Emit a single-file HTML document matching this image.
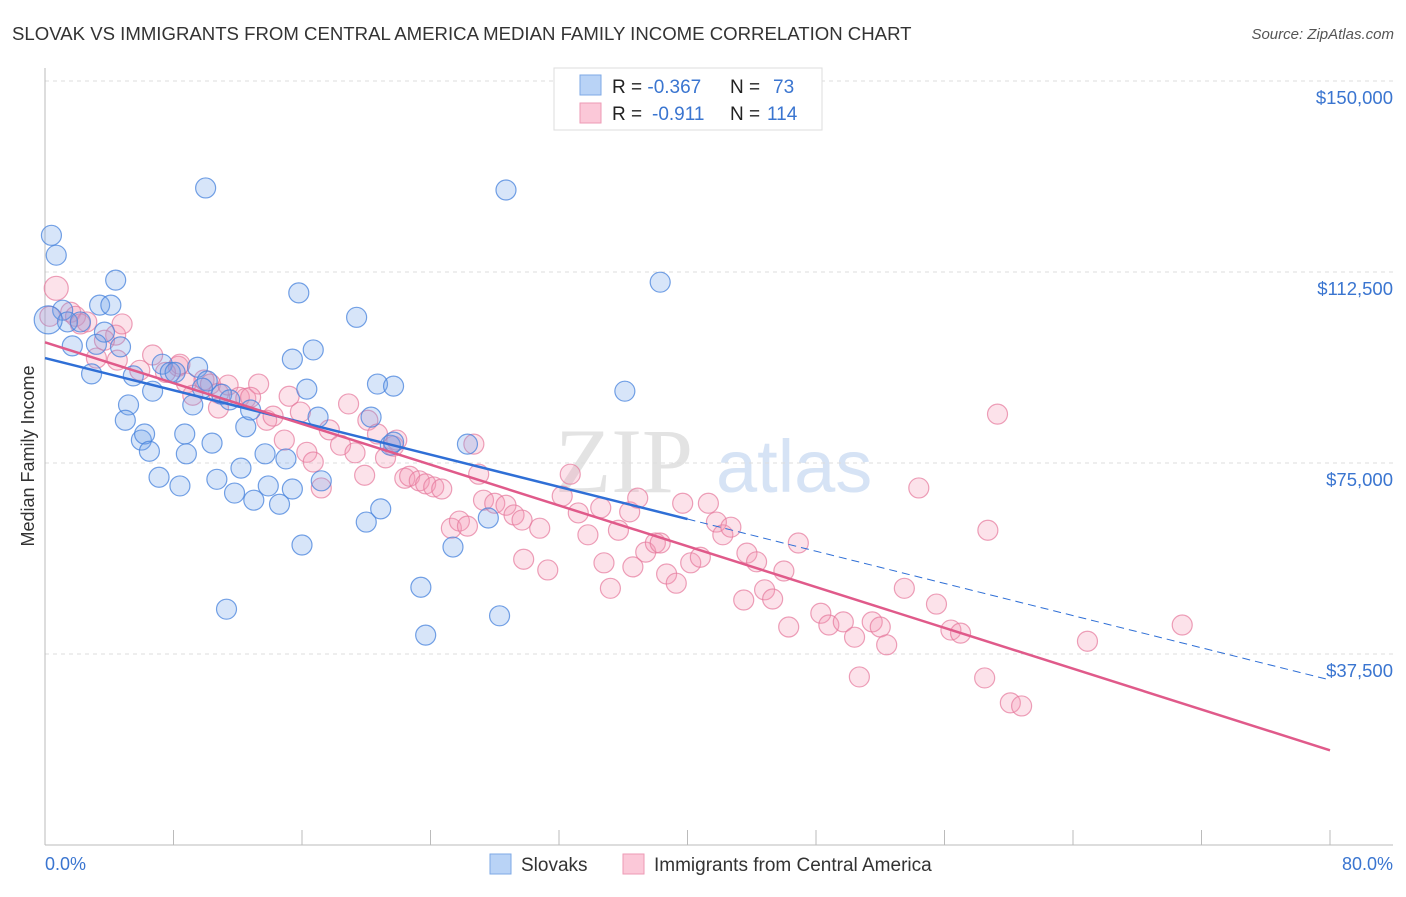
<!DOCTYPE html>
<html><head><meta charset="utf-8"><style>
body{margin:0;background:#fff;font-family:"Liberation Sans",sans-serif;}
svg text{font-family:"Liberation Sans",sans-serif;}
</style></head><body>
<svg id="chart" width="1406" height="892">
<text x="12" y="40" font-size="18.6" fill="#333">SLOVAK VS IMMIGRANTS FROM CENTRAL AMERICA MEDIAN FAMILY INCOME CORRELATION CHART</text>
<text x="1394" y="39" font-size="15" fill="#555" font-style="italic" text-anchor="end">Source: ZipAtlas.com</text>
<text x="34" y="456" font-size="18" fill="#333" text-anchor="middle" transform="rotate(-90 34 456)">Median Family Income</text>
<g>
<text x="555" y="492" font-size="92" fill="#e3e3e3" style="font-family:'Liberation Serif',serif">ZIP</text>
<text x="716" y="492" font-size="74" fill="#d6e3f5">atlas</text>
</g>
<g id="grid"></g>
<g id="axes"></g>
<g id="pts"></g>
<g id="lines"></g>
<g>
<rect x="554" y="68" width="268" height="62" fill="#fff" stroke="#ddd"/>
<rect x="580" y="75" width="21" height="20" fill="#b9d3f6" stroke="#7ea8e6"/>
<rect x="580" y="103" width="21" height="20" fill="#fbc8d8" stroke="#ee9ab5"/>
<text x="612" y="93" font-size="19" fill="#222">R = <tspan fill="#3a75d0">-0.367</tspan><tspan x="730">N = </tspan><tspan x="773" fill="#3a75d0">73</tspan></text>
<text x="612" y="120" font-size="19" fill="#222">R = <tspan x="652" fill="#3a75d0">-0.911</tspan><tspan x="730">N = </tspan><tspan x="767" fill="#3a75d0">114</tspan></text>
</g>
<g>
<rect x="490" y="854" width="21" height="20" fill="#b9d3f6" stroke="#7ea8e6"/>
<text x="521" y="871" font-size="19" fill="#333">Slovaks</text>
<rect x="623" y="854" width="21" height="20" fill="#fbc8d8" stroke="#ee9ab5"/>
<text x="654" y="871" font-size="19" fill="#333">Immigrants from Central America</text>
</g>
</svg>
<script>
const yTicks=[150000,112500,75000,37500];
const yTickLabels=["$150,000","$112,500","$75,000","$37,500"];
const xLabels=["0.0%","80.0%"];
const blueX=[0.4,0.7,4.4,10.0,28.7,38.3,15.8,19.4,3.4,4.1,1.1,1.4,2.2,0.2,3.7,1.7,3.2,4.7,2.9,5.5,7.3,7.8,9.5,6.7,5.2,9.2,6.0,6.2,6.5,5.0,8.7,8.8,10.4,7.1,8.4,10.7,11.8,12.2,13.0,12.5,13.7,13.9,14.6,15.0,15.4,15.4,16.7,16.3,17.0,17.2,16.0,11.3,20.3,20.7,21.7,21.5,21.7,20.9,20.0,26.3,27.6,25.4,23.4,23.7,28.3,36.1,12.8,11.0,11.5,10.1,8.1,9.8];
const blueY=[119.7,115.8,110.9,129.0,128.6,110.5,108.4,103.6,106.0,106.0,105.0,102.7,102.7,103.1,100.7,98.0,98.3,97.8,92.5,92.1,94.4,92.8,93.8,89.1,86.4,86.4,79.5,80.7,77.3,83.4,80.7,76.8,78.9,72.2,70.5,71.8,69.1,74.0,67.7,82.1,76.8,70.5,66.9,75.8,69.9,95.4,97.2,89.5,84.0,71.5,58.9,46.3,84.0,90.5,90.1,78.5,79.1,66.0,63.4,78.7,64.2,58.5,50.6,41.2,45.0,89.1,85.4,88.5,87.4,91.1,92.8,89.7];
const pinkX=[0.7,0.3,1.6,1.9,2.2,2.6,3.2,4.4,4.8,3.7,4.5,6.7,5.9,8.3,8.4,7.5,8.8,9.2,9.9,10.3,10.8,11.4,12.1,12.5,10.8,13.3,12.8,13.8,14.2,15.2,15.9,14.9,16.3,16.7,17.2,17.7,18.4,18.9,19.3,19.9,20.1,20.7,21.2,21.7,21.9,22.4,22.7,23.3,23.7,24.2,24.7,25.3,25.8,26.3,26.7,27.0,27.3,28.0,28.7,29.2,29.7,30.8,29.8,31.3,32.7,32.2,33.2,33.8,34.6,34.8,35.2,35.7,36.4,36.9,37.4,36.6,38.0,38.3,38.7,39.3,39.7,40.2,40.8,41.3,41.8,42.2,42.7,43.5,43.7,44.3,44.8,45.3,46.0,46.3,46.9,48.3,48.8,49.7,50.4,50.7,51.5,52.0,52.4,53.5,54.4,55.5,56.4,57.0,58.7,58.5,59.3,60.1,60.8,64.9,70.8];
const pinkY=[109.3,103.8,104.6,103.8,102.3,102.7,95.6,100.1,102.3,99.1,95.2,96.2,93.2,94.0,94.4,92.8,90.7,88.3,91.3,90.5,88.7,90.3,87.9,87.7,85.8,90.5,87.9,83.4,84.2,88.1,85.0,79.5,77.1,75.2,70.1,81.5,78.5,86.6,77.0,72.6,83.4,80.7,76.0,78.3,79.5,72.0,72.4,71.5,70.9,70.3,69.9,62.2,63.6,62.6,78.7,72.8,67.7,67.1,66.7,64.8,63.8,62.2,56.1,54.0,72.8,68.5,65.2,60.9,66.2,55.4,50.4,61.8,65.4,68.1,57.5,54.6,59.3,59.3,53.2,51.4,67.1,55.4,56.5,67.1,63.4,60.9,62.4,48.1,57.3,55.6,50.1,48.3,53.8,42.8,59.3,45.5,43.2,43.8,40.8,33.0,43.8,42.8,39.3,50.4,70.1,47.3,42.2,41.6,61.8,32.8,84.6,27.9,27.3,40.0,43.2];
const blueTrend=[95.6,32.4];
const pinkTrend=[98.7,18.6];
const blueSolidEnd=40;

const X0=45,X1=1330,Y0=845,Ypx=191;
const sx=p=>X0+p/80*(X1-X0);
const sy=v=>Y0-v/37500*Ypx;
const NS="http://www.w3.org/2000/svg";
function mk(tag,attrs,parent){const e=document.createElementNS(NS,tag);for(const k in attrs)e.setAttribute(k,attrs[k]);parent.appendChild(e);return e;}
const grid=document.getElementById('grid'),axes=document.getElementById('axes'),pts=document.getElementById('pts'),lines=document.getElementById('lines');
yTicks.forEach((t,i)=>{
 const l=mk('line',{x1:X0,x2:1393,y1:sy(t),y2:sy(t),stroke:'#ddd','stroke-dasharray':'4,4'},grid);
 
 
 const tx=mk('text',{x:1393,y:sy(t)+23,'font-size':18.5,fill:'#3a75d0','text-anchor':'end'},axes);
 tx.textContent=yTickLabels[i];
 
 
});
const ya=mk('line',{x1:X0,x2:X0,y1:68,y2:Y0,stroke:'#bbb'},axes);


const xa=mk('line',{x1:X0,x2:1393,y1:Y0,y2:Y0,stroke:'#bbb'},axes);


for(let i=0;i<=10;i++){
 const tk=mk('line',{x1:sx(i*8),x2:sx(i*8),y1:830,y2:Y0,stroke:'#bbb'},axes);
 
 
}
const xl0=mk('text',{x:X0,y:870,'font-size':18,fill:'#3a75d0'},axes);xl0.textContent=xLabels[0];


const xl1=mk('text',{x:1393,y:870,'font-size':18,fill:'#3a75d0','text-anchor':'end'},axes);xl1.textContent=xLabels[1];


pinkX.forEach((x,i)=>{
 const c=mk('circle',{cx:sx(x),cy:sy(pinkY[i]*1000),r:i===0?12:10,fill:'rgba(244,150,180,0.28)',stroke:'rgba(230,120,155,0.7)','stroke-width':1.2},pts);
 
 
});
blueX.forEach((x,i)=>{
 const c=mk('circle',{cx:sx(x),cy:sy(blueY[i]*1000),r:i===13?14:10,fill:'rgba(110,160,235,0.28)',stroke:'rgba(70,130,220,0.75)','stroke-width':1.2},pts);
 
 
});
const bAt=p=>blueTrend[0]+(blueTrend[1]-blueTrend[0])*p/80;
const bl=mk('line',{x1:sx(0),y1:sy(bAt(0)*1000),x2:sx(blueSolidEnd),y2:sy(bAt(blueSolidEnd)*1000),stroke:'#2f6fd6','stroke-width':2.5},lines);


const bd=mk('line',{x1:sx(blueSolidEnd),y1:sy(bAt(blueSolidEnd)*1000),x2:sx(80),y2:sy(bAt(80)*1000),stroke:'#2f6fd6','stroke-width':1,'stroke-dasharray':'8,5'},lines);


const pl=mk('line',{x1:sx(0),y1:sy(pinkTrend[0]*1000),x2:sx(80),y2:sy(pinkTrend[1]*1000),stroke:'#e05a8a','stroke-width':2.5},lines);


</script>
</body></html>
